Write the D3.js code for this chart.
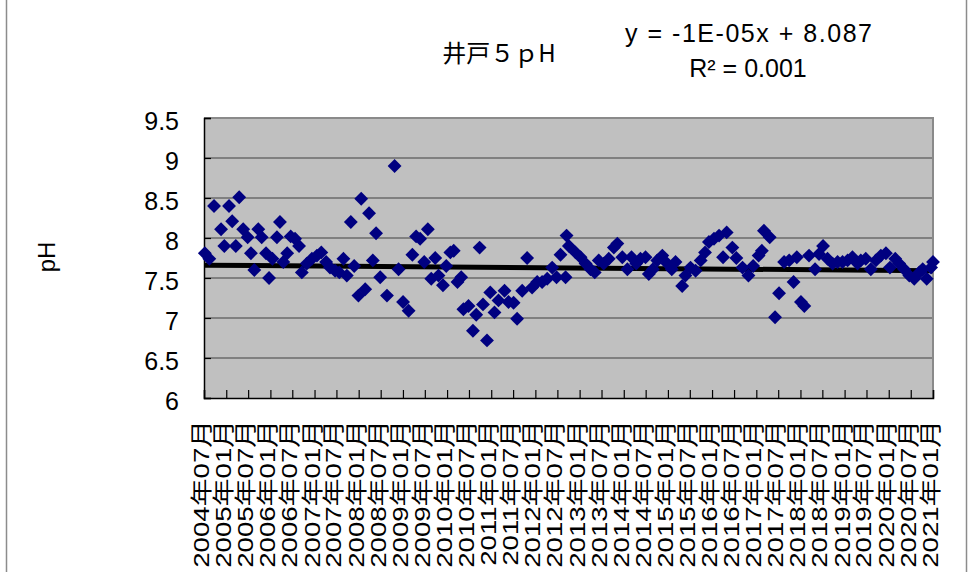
<!DOCTYPE html>
<html>
<head>
<meta charset="utf-8">
<script src="https://cdn.jsdelivr.net/npm/d3@7"></script>
<style>
  body { margin: 0; background: #fff; }
</style>
</head>
<body>
<div id="chart"></div>
<script>
// sampling dates and pH readings for well 5
const sampleDates = [
  "2004-07-08","2004-08-14","2004-09-22","2004-11-19","2004-12-16","2005-01-24","2005-02-19","2005-03-21",
  "2005-04-18","2005-05-21","2005-06-27","2005-07-24","2005-08-21","2005-09-23","2005-10-21","2005-11-26",
  "2005-12-21","2006-01-18","2006-02-24","2006-03-21","2006-04-18","2006-05-20","2006-06-18","2006-07-24",
  "2006-08-26","2006-09-18","2006-10-29","2006-12-10","2007-01-21","2007-02-26","2007-04-07","2007-05-09",
  "2007-06-20","2007-07-25","2007-08-28","2007-09-25","2007-10-28","2007-11-25","2007-12-30","2008-01-22",
  "2008-02-24","2008-03-27","2008-04-27","2008-05-24","2008-06-27","2008-08-22","2008-10-24","2008-11-26",
  "2009-01-02","2009-02-17","2009-03-20","2009-04-20","2009-05-23","2009-06-26","2009-07-26","2009-08-23",
  "2009-09-25","2009-10-22","2009-11-28","2009-12-25","2010-01-28","2010-02-25","2010-03-28","2010-04-28",
  "2010-05-16","2010-06-27","2010-08-03","2010-08-30","2010-09-27","2010-10-25","2010-11-27","2010-12-24",
  "2011-01-28","2011-03-02","2011-04-21","2011-05-24","2011-07-05","2011-08-03","2011-09-14","2011-10-25",
  "2011-12-05","2012-01-16","2012-02-26","2012-04-08","2012-05-19","2012-06-24","2012-07-27","2012-09-07",
  "2012-09-15","2012-10-04","2012-11-28","2013-01-09","2013-02-19","2013-04-01","2013-05-06","2013-06-08",
  "2013-07-19","2013-08-30","2013-10-11","2013-11-09","2013-12-20","2014-01-31","2014-03-06","2014-04-14",
  "2014-05-19","2014-06-30","2014-07-27","2014-08-30","2014-10-05","2014-11-16","2014-12-27","2015-02-02",
  "2015-03-05","2015-04-29","2015-05-26","2015-07-07","2015-08-18","2015-09-29","2015-11-04","2015-12-06",
  "2016-01-17","2016-02-28","2016-04-01","2016-05-01","2016-06-17","2016-07-20","2016-09-09","2016-10-28",
  "2016-12-06","2017-01-20","2017-02-16","2017-03-05","2017-04-22","2017-06-05","2017-07-08","2017-08-19",
  "2017-09-30","2017-11-05","2017-12-02","2018-01-05","2018-02-02","2018-03-13","2018-05-02","2018-06-04",
  "2018-07-07","2018-08-13","2018-09-24","2018-11-04","2018-12-15","2019-01-26","2019-03-07","2019-04-18",
  "2019-05-15","2019-06-25","2019-08-06","2019-09-17","2019-10-28","2019-12-09","2020-01-11","2020-02-24",
  "2020-03-27","2020-05-08","2020-06-19","2020-07-30","2020-09-10","2020-10-08","2020-11-10","2020-12-16",
  "2021-01-01"
];
const phValues = [
  7.81,7.74,8.40,8.11,7.90,8.40,8.21,7.90,
  8.51,8.11,8.01,7.81,7.60,8.11,8.01,7.81,
  7.50,7.74,8.01,8.20,7.70,7.81,8.02,7.99,
  7.90,7.57,7.68,7.74,7.78,7.82,7.70,7.63,
  7.59,7.57,7.74,7.53,8.20,7.65,7.28,8.49,
  7.36,8.31,7.72,8.06,7.51,7.28,8.90,7.61,
  7.20,7.09,7.79,8.02,7.99,7.70,8.11,7.49,
  7.75,7.53,7.41,7.65,7.82,7.84,7.45,7.51,
  7.11,7.15,6.84,7.04,7.88,7.17,6.72,7.32,
  7.07,7.22,7.34,7.20,7.19,6.99,7.34,7.75,
  7.38,7.45,7.45,7.49,7.63,7.51,7.79,7.51,
  8.03,7.90,7.82,7.76,7.68,7.61,7.57,7.72,
  7.68,7.74,7.88,7.93,7.76,7.61,7.76,7.68,
  7.74,7.76,7.55,7.61,7.72,7.78,7.68,7.61,
  7.70,7.40,7.53,7.63,7.59,7.72,7.82,7.95,
  7.99,8.03,7.76,8.07,7.88,7.75,7.63,7.53,
  7.65,7.78,7.84,8.09,8.01,7.01,7.31,7.70,
  7.72,7.45,7.76,7.20,7.15,7.78,7.61,7.80,
  7.90,7.74,7.68,7.70,7.70,7.72,7.76,7.68,
  7.72,7.74,7.61,7.72,7.78,7.81,7.63,7.74,
  7.68,7.61,7.53,7.49,7.57,7.61,7.49,7.63,
  7.70
];

const yTicks = [6, 6.5, 7, 7.5, 8, 8.5, 9, 9.5];
const xDomain = ["2004-07-01", "2021-01-01"];
const xTickMonths = 6;

// Excel linear trendline: x is the Excel serial date (days since 1899-12-30)
const trendIntercept = 8.087;
const trendSlope = -1.12e-5;

const titleText = "井戸５ｐH";
const equationLines = ["y = -1E-05x + 8.087", "R² = 0.001"];
const yLabelText = "pH";

const W = 974, H = 572;
const plot = { left: 204, right: 933, top: 118, bottom: 398 };

const parse = d3.utcParse("%Y-%m-%d");
const points = sampleDates.map((d, i) => ({ date: parse(d), ph: phValues[i] }));

const svg = d3.select("#chart").append("svg")
  .attr("width", W)
  .attr("height", H)
  .style("font-family", "'Liberation Sans', Arial, 'Noto Sans CJK JP', sans-serif");

const x = d3.scaleUtc().domain(xDomain.map(parse)).range([plot.left, plot.right]);
const y = d3.scaleLinear().domain([6, 9.5]).range([plot.bottom, plot.top]);

// outer chart border
svg.append("rect")
  .attr("x", 6.5).attr("y", -2)
  .attr("width", 960).attr("height", H + 4)
  .attr("fill", "none").attr("stroke", "#8c8c8c").attr("stroke-width", 1.5);

// plot area
svg.append("rect")
  .attr("x", plot.left).attr("y", plot.top)
  .attr("width", plot.right - plot.left).attr("height", plot.bottom - plot.top)
  .attr("fill", "#c0c0c0");

// horizontal gridlines
svg.append("g")
  .selectAll("line")
  .data(yTicks.filter(t => t > 6 && t < 9.5))
  .join("line")
  .attr("x1", plot.left).attr("x2", plot.right)
  .attr("y1", d => y(d)).attr("y2", d => y(d))
  .attr("stroke", "#404040").attr("stroke-width", 1);

// top and right border of plot area
svg.append("path")
  .attr("d", `M${plot.left},${plot.top}H${plot.right}V${plot.bottom}`)
  .attr("fill", "none").attr("stroke", "#8a8a8a").attr("stroke-width", 2);

// y axis
const yAxis = d3.axisLeft(y).tickValues(yTicks).tickSize(-7).tickPadding(25)
  .tickFormat(d3.format("~g"));
const gy = svg.append("g")
  .attr("transform", `translate(${plot.left},0)`)
  .call(yAxis);
gy.select(".domain").attr("stroke", "#000").attr("stroke-width", 1.5);
gy.selectAll(".tick line").attr("stroke", "#000").attr("stroke-width", 1.2);
gy.selectAll(".tick text")
  .attr("font-size", 25)
  .attr("font-family", "'Liberation Sans', Arial, sans-serif")
  .attr("fill", "#000")
  .attr("dy", "0.45em");

// x axis (date axis, tick every 6 months)
const xTicks = d3.utcMonth.every(xTickMonths).range(parse(xDomain[0]), d3.utcDay.offset(parse(xDomain[1]), 1));
const fmt = d3.utcFormat("%Y年%m月");
const xAxis = d3.axisBottom(x).tickValues(xTicks).tickSize(-8).tickFormat("");
const gx = svg.append("g")
  .attr("transform", `translate(0,${plot.bottom})`)
  .call(xAxis);
gx.select(".domain").attr("stroke", "#000").attr("stroke-width", 1.5);
gx.selectAll(".tick line").attr("stroke", "#000").attr("stroke-width", 1.2);

svg.append("g")
  .selectAll("text")
  .data(xTicks)
  .join("text")
  .attr("transform", d => `translate(${x(d) + 5},420) rotate(-90) scale(1.32,1.05)`)
  .attr("text-anchor", "end")
  .attr("font-size", 21)
  .attr("fill", "#000")
  .text(d => fmt(d));

// trendline
const excelEpoch = Date.UTC(1899, 11, 30);
const serial = d => (d - excelEpoch) / 86400000;
const trendEnds = d3.extent(points, p => p.date);
svg.append("line")
  .attr("x1", x(trendEnds[0])).attr("x2", x(trendEnds[1]))
  .attr("y1", y(trendIntercept + trendSlope * serial(trendEnds[0])))
  .attr("y2", y(trendIntercept + trendSlope * serial(trendEnds[1])))
  .attr("stroke", "#000").attr("stroke-width", 5);

// diamond markers
const diamond = d3.symbol().type(d3.symbolSquare).size(96);
svg.append("g")
  .selectAll("path")
  .data(points)
  .join("path")
  .attr("d", diamond)
  .attr("transform", d => `translate(${x(d.date)},${y(d.ph)}) rotate(45)`)
  .attr("fill", "#000080");

// title
svg.append("text")
  .attr("x", 499).attr("y", 62)
  .attr("text-anchor", "middle")
  .attr("font-size", 24)
  .attr("font-family", "'Noto Sans CJK JP', sans-serif")
  .text(titleText);

// trendline equation
svg.append("g")
  .selectAll("text")
  .data(equationLines)
  .join("text")
  .attr("x", (d, i) => i === 0 ? 625 : 748)
  .attr("y", (d, i) => 42 + i * 35)
  .attr("text-anchor", (d, i) => i === 0 ? "start" : "middle")
  .attr("textLength", (d, i) => i === 0 ? 247 : null)
  .attr("lengthAdjust", "spacing")
  .attr("font-size", 25)
  .attr("font-family", "'Liberation Sans', Arial, sans-serif")
  .text(d => d);

// y axis title
svg.append("text")
  .attr("transform", "translate(55,257) rotate(-90)")
  .attr("text-anchor", "middle")
  .attr("font-size", 24)
  .attr("font-family", "'Liberation Sans', Arial, sans-serif")
  .text(yLabelText);
</script>
</body>
</html>
